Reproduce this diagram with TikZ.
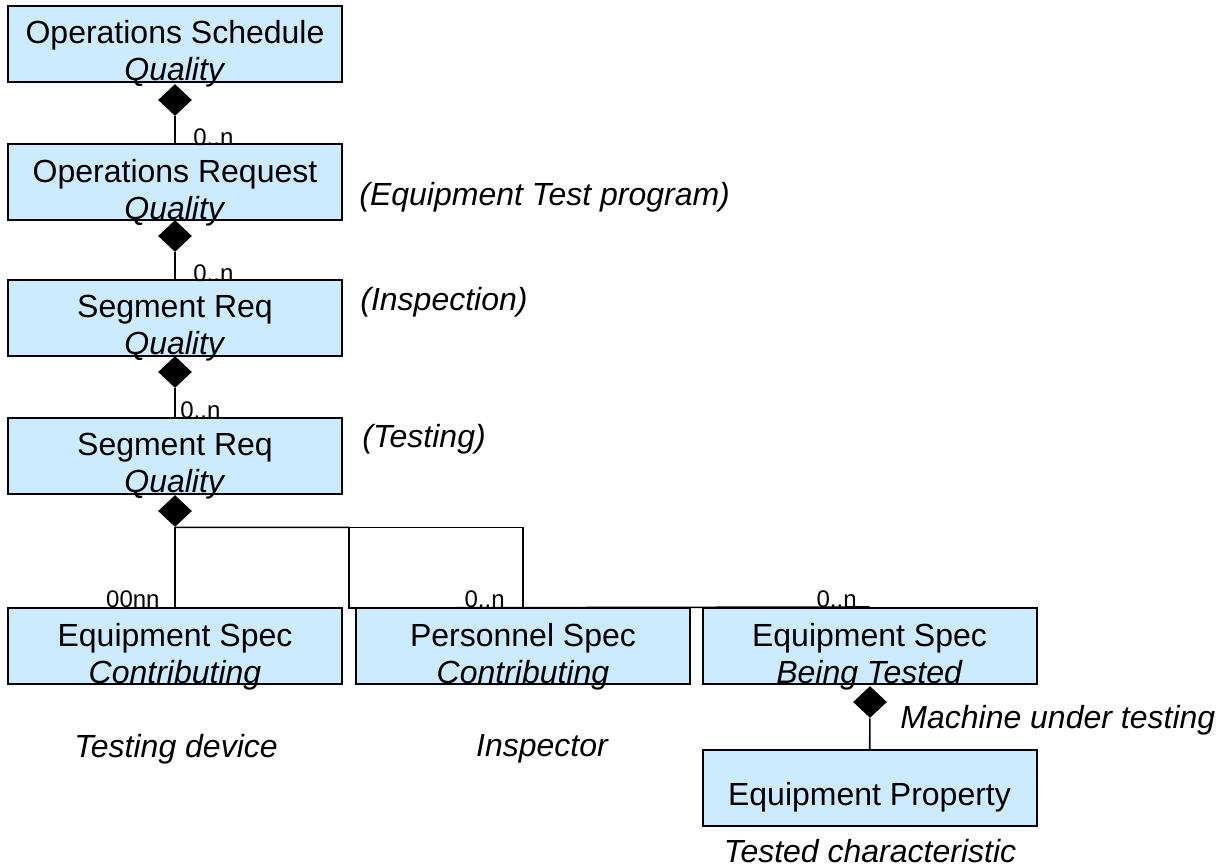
\documentclass[tikz,border=0pt]{standalone}
\usepackage{fontspec}
\setmainfont{Liberation Sans}
\usepackage{tikz}
\usetikzlibrary{shapes.geometric, positioning}
\definecolor{boxblue}{RGB}{204,235,255}
\tikzstyle{line} = [draw, line width = 0.8pt]
\tikzstyle{block} = [rectangle, draw, line width = 1pt, fill = boxblue, minimum width = 167pt, minimum height = 38pt, inner sep = 0pt]
\tikzstyle{blocktext} = [align = center, inner sep = 0pt, font = \fontsize{16}{18.5}\selectfont]
\tikzstyle{note} = [inner sep = 0pt, font = \fontsize{16}{17}\selectfont\itshape]
\tikzstyle{mult} = [inner sep = 0pt, font = \fontsize{12}{14}\selectfont]
\tikzstyle{agg} = [diamond, fill = black, inner sep = 0pt, minimum width = 17pt, minimum height = 16pt]

\begin{document}
\begin{tikzpicture}[x = 0.5pt, y = -0.5pt]
			\useasboundingbox (0, 0) rectangle (1217, 868);
			% Place nodes
			\node [block] (opsched) at (175, 43.5) {};
			\node [block] (opreq) at (175, 182) {};
			\node [block] (inspreq) at (175, 318) {};
			\node [block] (testreq) at (175, 456) {};
			\node [block] (eqspec) at (175, 646) {};
			\node [block] (persspec) at (523, 646) {};
			\node [block] (eqtest) at (869.5, 646) {};
			\node [block] (eqprop) at (869.5, 788) {};
			
			\node [blocktext] (opschedtxt) at (175, 54) {Operations Schedule\\\textit{Quality}};
			\node [blocktext] (opreqtxt) at (175, 192.5) {Operations Request\\\textit{Quality}};
			\node [blocktext] (inspreqtxt) at (175, 328.5) {Segment Req\\\textit{Quality}};
			\node [blocktext] (testreqtxt) at (175, 466.5) {Segment Req\\\textit{Quality}};
			\node [blocktext] (eqspectxt) at (175, 656.5) {Equipment Spec\\\textit{Contributing}};
			\node [blocktext] (persspectxt) at (523, 656.5) {Personnel Spec\\\textit{Contributing}};
			\node [blocktext] (eqtesttxt) at (869.5, 656.5) {Equipment Spec\\\textit{Being Tested}};
			\node [blocktext] (eqproptxt) at (869.5, 797) {Equipment Property};
			
			\node [agg] (d1) at (175, 100) {};
			\node [agg] (d2) at (175, 236) {};
			\node [agg] (d3) at (175, 372) {};
			\node [agg] (d4) at (175, 511) {};
			\node [agg] (d5) at (870, 702) {};
			\coordinate (fork) at (349, 608);
			
			\node [mult, anchor = base west] (m1) at (193, 145) {0..n};
			\node [mult, anchor = base west] (m2) at (193, 281) {0..n};
			\node [mult, anchor = base west] (m3) at (180, 418) {0..n};
			\node [mult, anchor = base east] (m4) at (160, 607) {00nn};
			\node [mult, anchor = base east] (m5) at (505, 607) {0..n};
			\node [mult, anchor = base east] (m6) at (857, 607) {0..n};
			
			\node [note, anchor = west] (testprog) at (359, 197) {(Equipment Test program)};
			\node [note, anchor = west] (inspection) at (360, 302) {(Inspection)};
			\node [note, anchor = west] (testing) at (362, 439) {(Testing)};
			\node [note] (testdevice) at (176, 749) {Testing device};
			\node [note] (inspector) at (542, 749) {Inspector};
			\node [note, anchor = west] (machine) at (900, 720) {Machine under testing};
			\node [note, anchor = base] (testedchar) at (870, 862) {Tested characteristic};
			
			% Draw edges
			\path [line] (d1) -- (opreq);
			\path [line] (d2) -- (inspreq);
			\path [line] (d3) -- (testreq);
			\path [line] (d4.south) -- (eqspec.north);
			\path [line] (d4.south) -| (persspec.north);
			\path [line] (d4.south) -| (fork) -- (eqtest.north);
			\path [line] (d5) -- (eqprop);
		\end{tikzpicture}
\end{document}
